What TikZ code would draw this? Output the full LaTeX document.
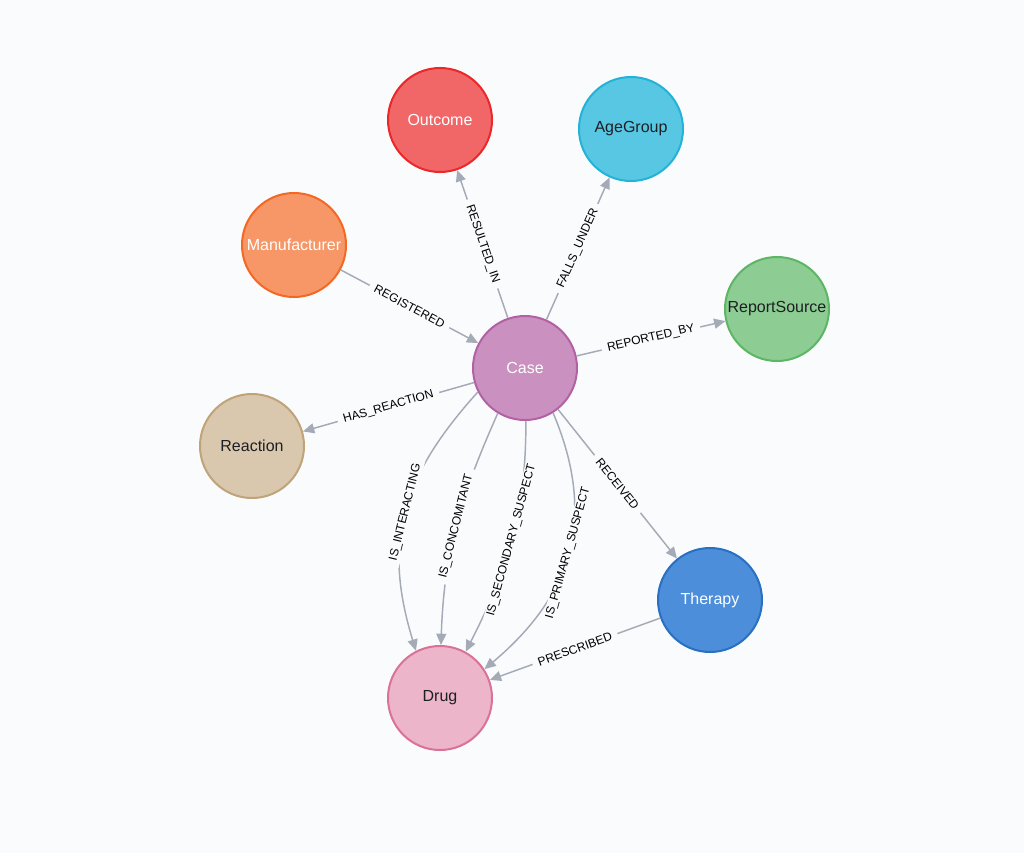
\documentclass[tikz,border=0pt]{standalone}
\usepackage{fontspec}
\setmainfont{Liberation Sans}
\usepackage{tikz}
\usetikzlibrary{arrows.meta}

\definecolor{bg}{HTML}{F9FBFD}
\definecolor{edge}{HTML}{A5ABB6}
\definecolor{ink}{HTML}{1E1F24}
\definecolor{fOutcome}{HTML}{F16667}      \definecolor{lOutcome}{HTML}{EB2728}
\definecolor{fAgeGroup}{HTML}{57C7E3}     \definecolor{lAgeGroup}{HTML}{23B3D7}
\definecolor{fManufacturer}{HTML}{F79767} \definecolor{lManufacturer}{HTML}{F36924}
\definecolor{fReportSource}{HTML}{8DCC93} \definecolor{lReportSource}{HTML}{5DB665}
\definecolor{fReaction}{HTML}{D9C8AE}     \definecolor{lReaction}{HTML}{C0A378}
\definecolor{fTherapy}{HTML}{4C8EDA}      \definecolor{lTherapy}{HTML}{2870C2}
\definecolor{fDrug}{HTML}{ECB5C9}         \definecolor{lDrug}{HTML}{DA7298}
\definecolor{fCase}{HTML}{C990C0}         \definecolor{lCase}{HTML}{B261A5}

\begin{document}
\begin{tikzpicture}[x=0.75pt, y=-0.75pt,
    ent/.style={circle, minimum size=78pt, inner sep=0pt, line width=1.5pt, font=\fontsize{12}{14}\selectfont},
    rel/.style={draw=edge, line width=1.1pt, -{Triangle[length=8.5pt,width=7.5pt]}},
    lbl/.style={sloped, fill=bg, text=black, inner xsep=4.5pt, inner ysep=1pt, font=\fontsize{9}{10}\selectfont}]
    % Background and frame
    \fill[bg] (0,0) rectangle (1024,853);
    \useasboundingbox (0,0) rectangle (1024,853);
    % Entity circles
    \foreach \n/\x/\y/\t in {Case/525/368/white, Outcome/440/120/white, AgeGroup/631/129/ink,
        Manufacturer/294/245/white, ReportSource/777/309/ink, Reaction/252/446/ink,
        Therapy/710/600/white, Drug/440/698/ink} {
        \node[ent, fill=f\n, draw=l\n, text=\t] (\n) at (\x,\y) {\n};
    }
    % Straight relationships
    \foreach \a/\b/\l in {Case/Outcome/RESULTED\_IN, Case/AgeGroup/FALLS\_UNDER,
        Manufacturer/Case/REGISTERED, Case/ReportSource/REPORTED\_BY,
        Case/Reaction/HAS\_REACTION, Case/Therapy/RECEIVED, Therapy/Drug/PRESCRIBED} {
        \draw[rel] (\a) -- node[lbl] {\l} (\b);
    }
    % Curved relationships Case -> Drug
    \draw[rel] (Case.207) to[out=228, in=107, looseness=1.1] node[lbl] {IS\_INTERACTING} (Drug.117);
    \draw[rel] (Case.239) to[out=246, in=88] node[lbl] {IS\_CONCOMITANT} (Drug.89);
    \draw[rel] (Case.271) to[out=270, in=63] node[lbl] {IS\_SECONDARY\_SUSPECT} (Drug.61);
    \draw[rel] (Case.302) to[out=293, in=40, looseness=1.1] node[lbl] {IS\_PRIMARY\_SUSPECT} (Drug.33);
\end{tikzpicture}
\end{document}
